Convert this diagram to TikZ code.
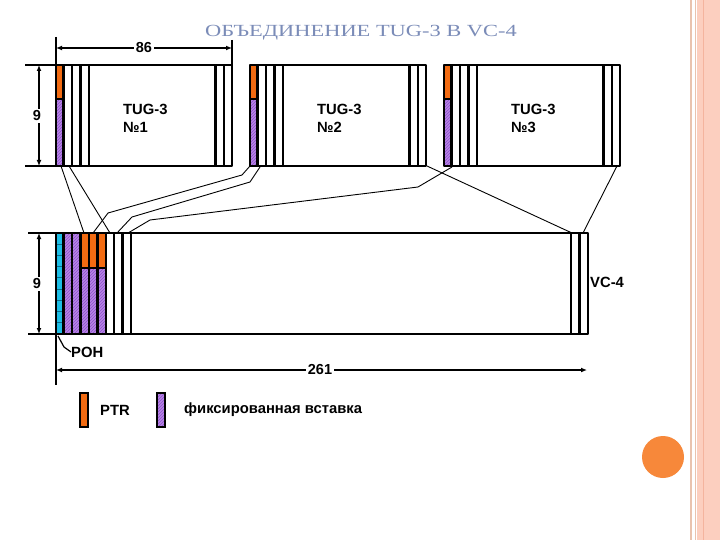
\documentclass[tikz,border=0pt]{standalone}
\usepackage{fontspec}
\setmainfont{Liberation Sans}
\newfontfamily\titlefont{Liberation Serif}
\usetikzlibrary{patterns,arrows.meta}
\definecolor{orng}{HTML}{F26B12}
\definecolor{purp}{HTML}{B884E6}
\definecolor{purpD}{HTML}{8A52C8}
\definecolor{cyn}{HTML}{1DBEE6}
\definecolor{cynD}{HTML}{0A6F8E}
\definecolor{ttl}{HTML}{7B8CB8}
\definecolor{pinkbar}{HTML}{FCCFBF}
\definecolor{tanline}{HTML}{E9C3AE}
\definecolor{pinkline}{HTML}{F4B49E}
\definecolor{circ}{HTML}{F7883A}
\begin{document}
\begin{tikzpicture}[x=1pt,y=-1pt,
  lbl/.style={font=\fontsize{14.8}{18}\selectfont\bfseries, inner sep=0pt},
  dimlbl/.style={font=\fontsize{14.5}{16}\selectfont\bfseries, fill=white, inner sep=2pt},
  frame/.style={line width=2.8pt, line join=round},
  colline/.style={line width=2.3pt},
  dimarrow/.style={line width=1.6pt, {Latex[length=6pt,width=5pt]}-{Latex[length=6pt,width=5pt]}},
  extline/.style={line width=1.3pt},
  conn/.style={line width=0.9pt},
  hatchp/.style={fill=purp, postaction={pattern=north east lines, pattern color=purpD}},
]
\useasboundingbox (0,0) rectangle (720,540);
\fill[white] (0,0) rectangle (720,540);

% right decoration
\fill[pinkbar] (697,0) rectangle (720,540);
\draw[tanline, line width=1.5pt] (691,0) -- (691,540);
\draw[tanline, line width=1.5pt] (695.5,0) -- (695.5,540);
\draw[pinkline, line width=1pt] (703,0) -- (703,540);
\fill[circ] (663,457) circle (21pt);

% title
\node[text=ttl, inner sep=0pt] (title) at (361,33)
  {\scalebox{1.32}[1]{\titlefont\fontsize{17}{17}\selectfont ОБЪЕДИНЕНИЕ TUG-3 В VC-4}};

% TUG-3 boxes
\foreach \x/\n in {56/1,250/2,444/3}{
  \fill[orng] (\x,65) rectangle (\x+7.5,99);
  \path[hatchp] (\x,99) rectangle (\x+7.5,166);
  \draw[colline] (\x,99) -- (\x+7.5,99);
  \foreach \d in {7.5,16,24.5,33,159.5,168}
    \draw[colline] (\x+\d,65) -- (\x+\d,166);
  \draw[frame] (\x,65) rectangle (\x+176,166);
  \node[lbl, anchor=west, align=left] (t\n) at (\x+67,118) {TUG-3\\№\n};
}

% VC-4
\fill[cyn] (56,233) rectangle (63.5,334);
\foreach \k in {1,...,8}
  \draw[cynD, line width=1.2pt] (56,233+\k*11.22) -- (63.5,233+\k*11.22);
\path[hatchp] (63.5,233) rectangle (80.5,334);
\fill[orng] (80.5,233) rectangle (106,268);
\path[hatchp] (80.5,268) rectangle (106,334);
\draw[colline] (80.5,268) -- (106,268);
\foreach \d in {63.5,72,80.5,89,97.5,106,114,122.5,131,571,579.5}
  \draw[colline] (\d,233) -- (\d,334);
\draw[frame] (56,233) rectangle (588,334);
\node[lbl, anchor=west] (vc4) at (590,282) {VC-4};

% connectors
\draw[conn] (61,166) -- (84,233);
\draw[conn] (69,166) -- (110,233);
\draw[conn] (250,166) -- (242,175) -- (108,213) -- (93,233);
\draw[conn] (260,167) -- (250,182) -- (132,217) -- (117,233);
\draw[conn] (452,167) -- (418,187) -- (150,220) -- (128,233);
\draw[conn] (427,166) -- (572,233);
\draw[conn] (617,166) -- (583,233);

% dimensions
\draw[extline] (56,37) -- (56,65);
\draw[extline] (232,40) -- (232,65);
\draw[dimarrow] (56,48) -- (232,48);
\node[dimlbl] (d86) at (144,48) {86};

\draw[extline] (25,65) -- (56,65);
\draw[extline] (25,166) -- (56,166);
\draw[dimarrow] (39,65) -- (39,166);
\node[dimlbl] (d9a) at (37,116) {9};

\draw[extline] (28,233) -- (56,233);
\draw[extline] (28,334) -- (56,334);
\draw[dimarrow] (39,233) -- (39,334);
\node[dimlbl] (d9b) at (37,284) {9};

\draw[extline] (56,334) -- (56,385);
\draw[dimarrow] (56,370) -- (587,370);
\node[dimlbl] (d261) at (320,370) {261};

% POH
\node[lbl, anchor=west] (poh) at (71,352) {POH};
\draw[line width=1.2pt] (58,336) -- (64,347) -- (poh.west);

% legend
\draw[line width=1.6pt, fill=orng] (80,393) rectangle (88,427);
\node[lbl, anchor=west] (lptr) at (100,410) {PTR};
\path[hatchp] (157,393) rectangle (165,427);
\draw[line width=1.6pt] (157,393) rectangle (165,427);
\node[lbl, anchor=west] (lfix) at (184,410) {фиксированная вставка};
\end{tikzpicture}
\end{document}
